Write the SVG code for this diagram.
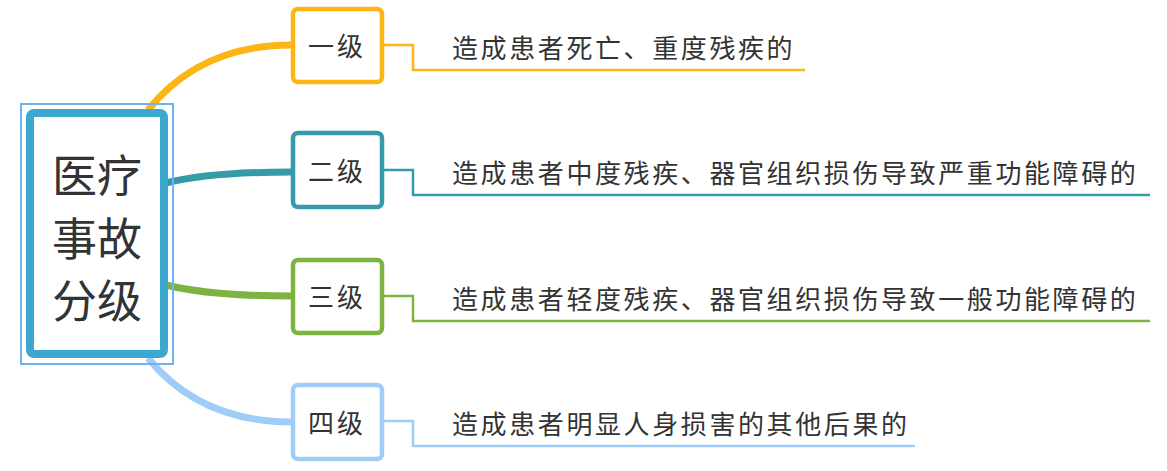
<svg xmlns="http://www.w3.org/2000/svg" width="1167" height="471" viewBox="0 0 1167 471">
<style>
text{font-family:"Noto Sans CJK SC","Liberation Sans",sans-serif;fill:#333}
.lv{font-size:26px;letter-spacing:3px}
.ds{font-size:26px;letter-spacing:2.6px}
.box{fill:#fff;stroke-width:4.5}
.c{fill:none;stroke-width:7}
.u{fill:none;stroke-width:2.5}
</style>
<rect width="1167" height="471" fill="#fff"/>
<g id="connectors">
<path class="c" stroke="#FDB515" d="M148,110 Q200,45 292,45"/>
<path class="c" stroke="#359BA8" d="M166,183 Q210,172 292,172"/>
<path class="c" stroke="#7CB342" d="M166,285 Q210,296 292,296"/>
<path class="c" stroke="#9FCDF8" d="M148,358 Q200,422 292,422"/>
<path class="u" stroke="#FDB515" d="M383,45 H413 V70 H805"/>
<path class="u" stroke="#359BA8" d="M383,170 H413 V195 H1150"/>
<path class="u" stroke="#7CB342" d="M383,296 H413 V321 H1150"/>
<path class="u" stroke="#9FCDF8" d="M383,421 H413 V446 H915"/>
</g>
<g id="root">
<rect x="21" y="104" width="152" height="260" fill="none" stroke="#6FB1F5" stroke-width="2"/>
<rect x="30" y="113" width="134" height="241" rx="4" fill="#fff" stroke="#3DA8CF" stroke-width="8"/>
<text x="97" y="193" font-size="45" text-anchor="middle">医疗</text>
<text x="97" y="256" font-size="45" text-anchor="middle">事故</text>
<text x="97" y="318" font-size="45" text-anchor="middle">分级</text>
</g>
<g id="l1"><rect class="box" x="293" y="9" width="89" height="73" rx="5" stroke="#FDB515"/><text class="lv" x="308" y="56">一级</text></g>
<g id="l2"><rect class="box" x="293" y="133" width="89" height="74" rx="5" stroke="#359BA8"/><text class="lv" x="308" y="181">二级</text></g>
<g id="l3"><rect class="box" x="293" y="260" width="89" height="73" rx="5" stroke="#7CB342"/><text class="lv" x="308" y="307">三级</text></g>
<g id="l4"><rect class="box" x="293" y="385" width="89" height="74" rx="5" stroke="#9FCDF8"/><text class="lv" x="308" y="433">四级</text></g>
<g id="d1"><text class="ds" x="452" y="58">造成患者死亡、重度残疾的</text></g>
<g id="d2"><text class="ds" x="452" y="183">造成患者中度残疾、器官组织损伤导致严重功能障碍的</text></g>
<g id="d3"><text class="ds" x="452" y="309">造成患者轻度残疾、器官组织损伤导致一般功能障碍的</text></g>
<g id="d4"><text class="ds" x="452" y="434">造成患者明显人身损害的其他后果的</text></g>
</svg>
